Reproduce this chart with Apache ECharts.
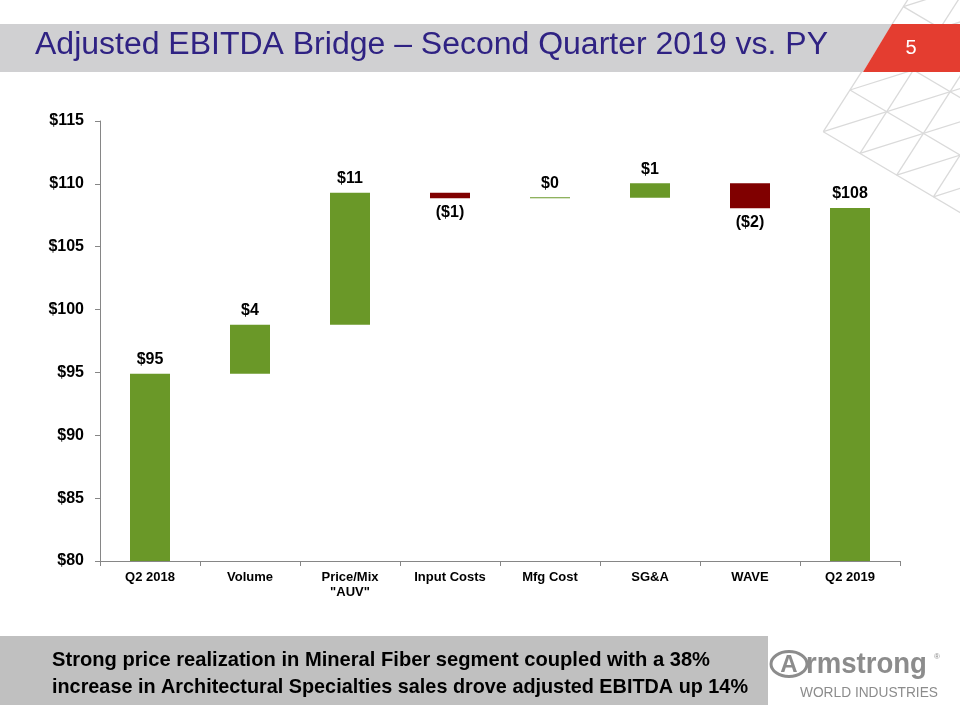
<!DOCTYPE html>
<html>
<head>
<meta charset="utf-8">
<script src="https://cdn.jsdelivr.net/npm/echarts@6/dist/echarts.min.js"></script>
<style>
html,body{margin:0;padding:0;background:#fff;}
#chart{width:960px;height:720px;}
</style>
</head>
<body>
<div id="chart"></div>
<script>
// ---- data ----
const categories = ['Q2 2018', 'Volume', 'Price/Mix\n"AUV"', 'Input Costs', 'Mfg Cost', 'SG&A', 'WAVE', 'Q2 2019'];
const values = [94.9, 3.9, 10.5, -0.45, 0.05, 1.14, -1.99, 108.08];
const isTotal = [true, false, false, false, false, false, false, true];
const valueLabels = ['$95', '$4', '$11', '($1)', '$0', '$1', '($2)', '$108'];
const yMin = 80, yMax = 115, yStep = 5;

const titleText = 'Adjusted EBITDA Bridge \u2013 Second Quarter 2019 vs. PY';
const pageNumber = '5';
const footnoteLines = [
  'Strong price realization in Mineral Fiber segment coupled with a 38%',
  'increase in Architectural Specialties sales drove adjusted EBITDA up 14%'
];

// ---- waterfall build ----
const GREEN = '#6A9828', RED = '#800000';
const baseData = [], barData = [];
let running = 0;
values.forEach((v, i) => {
  let base, h;
  if (isTotal[i]) { base = 0; h = v; running = v; }
  else if (v >= 0) { base = running; h = v; running += v; }
  else { running += v; base = running; h = -v; }
  baseData.push(base);
  const neg = !isTotal[i] && v < 0;
  barData.push({
    value: h,
    itemStyle: { color: neg ? RED : GREEN },
    label: { show: true, position: neg ? 'bottom' : 'top', distance: 6, formatter: () => valueLabels[i] }
  });
});

// ---- decoration lattice ----
const P0 = [823.3, 131.7], vc = [26.7, -41.7], vb = [36.7, 21.7], va = [63.4, -20];
const lat = [];
function seg(s, d, n) {
  lat.push({ type: 'line', z: 0, silent: true,
    shape: { x1: s[0], y1: s[1], x2: s[0] + d[0] * n, y2: s[1] + d[1] * n },
    style: { stroke: '#DADADA', lineWidth: 1.3 } });
}
const add = (p, d, k) => [p[0] + d[0] * k, p[1] + d[1] * k];
for (let j = 0; j <= 4; j++) seg(add(P0, vb, j), vc, 8);
for (let i = 0; i <= 4; i++) seg(add(P0, vc, i), vb, 8);
for (let k = 0; k <= 4; k++) seg(add(P0, vb, k), va, 8);
for (let k = 1; k <= 4; k++) seg(add(P0, vc, k), va, 8);

const FONT = '"Liberation Sans", Arial, sans-serif';

// measure helper to fit text widths to the reference
const mctx = document.createElement('canvas').getContext('2d');
function widthOf(text, font) { mctx.font = font; return mctx.measureText(text).width; }

const titleFont = '31px ' + FONT;
const titleScale = 793 / widthOf(titleText, titleFont);
const footFont = 'bold 21px ' + FONT;
const footScale1 = 658 / widthOf(footnoteLines[0], footFont);
const footScale2 = 696 / widthOf(footnoteLines[1], footFont);

const chart = echarts.init(document.getElementById('chart'), null, { renderer: 'canvas' });
chart.setOption({
  backgroundColor: '#ffffff',
  animation: false,
  grid: { left: 100, right: 60, top: 121, bottom: 159, containLabel: false },
  xAxis: {
    type: 'category',
    data: categories,
    axisLine: { lineStyle: { color: '#868686', width: 1 } },
    axisTick: { show: true, alignWithLabel: false, interval: 0, length: 5, lineStyle: { color: '#868686' } },
    axisLabel: { interval: 0, color: '#000', fontFamily: FONT, fontWeight: 'bold', fontSize: 13, margin: 9, lineHeight: 15 },
    splitLine: { show: false }
  },
  yAxis: {
    type: 'value',
    min: yMin, max: yMax, interval: yStep,
    axisLine: { show: true, lineStyle: { color: '#868686', width: 1 } },
    axisTick: { show: true, length: 5, lineStyle: { color: '#868686' } },
    axisLabel: { color: '#000', fontFamily: FONT, fontWeight: 'bold', fontSize: 16, margin: 16, formatter: v => '$' + v },
    splitLine: { show: false }
  },
  series: [
    { type: 'bar', stack: 'w', data: baseData, barWidth: 40, clip: true,
      itemStyle: { color: 'rgba(0,0,0,0)' }, silent: true, z: 1 },
    { type: 'bar', stack: 'w', data: barData, barWidth: 40, clip: true, barMinHeight: 1, z: 2,
      label: { color: '#000', fontFamily: FONT, fontWeight: 'bold', fontSize: 16 } }
  ],
  graphic: lat.concat([
    { type: 'polygon', z: 5, silent: true,
      shape: { points: [[0, 24], [892, 24], [863, 72], [0, 72]] },
      style: { fill: '#D0D0D2' } },
    { type: 'polygon', z: 5, silent: true,
      shape: { points: [[892, 24], [960, 24], [960, 72], [863, 72]] },
      style: { fill: '#E43D30' } },
    { type: 'text', z: 6, x: 35, y: 45, scaleX: titleScale,
      style: { text: titleText, fill: '#2F2283', font: titleFont, verticalAlign: 'middle', align: 'left' } },
    { type: 'text', z: 6, x: 911, y: 48,
      style: { text: pageNumber, fill: '#ffffff', font: '20px ' + FONT, verticalAlign: 'middle', align: 'center' } },
    { type: 'rect', z: 5, silent: true,
      shape: { x: 0, y: 636, width: 768, height: 69 },
      style: { fill: '#C0C0C0' } },
    { type: 'text', z: 6, x: 52, y: 660, scaleX: footScale1,
      style: { text: footnoteLines[0], fill: '#000', font: footFont, verticalAlign: 'middle', align: 'left' } },
    { type: 'text', z: 6, x: 52, y: 687, scaleX: footScale2,
      style: { text: footnoteLines[1], fill: '#000', font: footFont, verticalAlign: 'middle', align: 'left' } },
    { type: 'ellipse', z: 6, silent: true,
      shape: { cx: 789, cy: 664, rx: 18, ry: 12.5 },
      style: { fill: 'none', stroke: '#8C8C8C', lineWidth: 3 } },
    { type: 'text', z: 6, x: 789, y: 665,
      style: { text: 'A', fill: '#8C8C8C', font: 'bold 24px ' + FONT, verticalAlign: 'middle', align: 'center' } },
    { type: 'text', z: 6, x: 806, y: 665, scaleX: 0.95,
      style: { text: 'rmstrong', fill: '#8C8C8C', font: 'bold 29px ' + FONT, verticalAlign: 'middle', align: 'left' } },
    { type: 'text', z: 6, x: 934, y: 657,
      style: { text: '\u00AE', fill: '#8C8C8C', font: '8px ' + FONT, verticalAlign: 'middle' } },
    { type: 'text', z: 6, x: 800, y: 693, scaleX: 0.98,
      style: { text: 'WORLD INDUSTRIES', fill: '#8C8C8C', font: '14px ' + FONT, verticalAlign: 'middle', align: 'left' } }
  ])
});
</script>
</body>
</html>
